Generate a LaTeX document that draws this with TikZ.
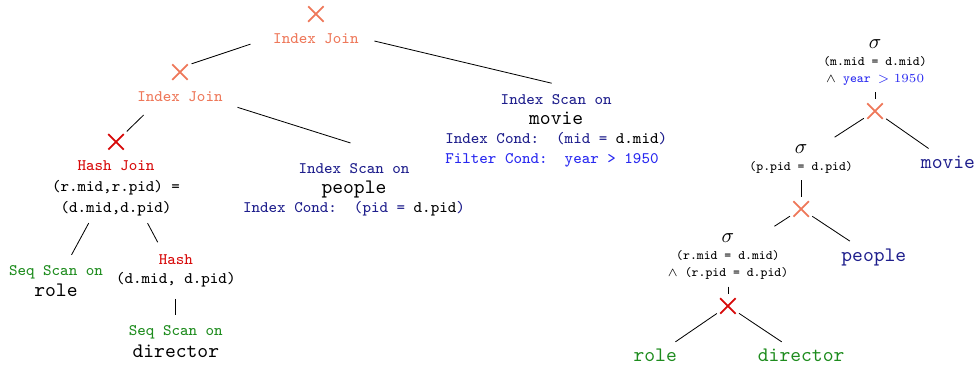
\documentclass[tikz,border=0pt]{standalone}
\usepackage{amssymb}
\usepackage{tikz}
\usetikzlibrary{shapes.misc}
\definecolor{joincol}{RGB}{238,120,90}
\definecolor{hashcol}{RGB}{215,10,10}
\definecolor{scancol}{RGB}{30,140,30}
\definecolor{idxcol}{RGB}{30,30,140}
\definecolor{filtcol}{RGB}{40,40,240}

\begin{document}
\begin{tikzpicture}[
  joinx/.style={cross out,draw=#1,line width=0.85pt,minimum size=7.5pt,inner sep=0pt,outer sep=0pt},
  op/.style={font=\ttfamily\fontsize{7.8}{9.5}\selectfont\frenchspacing,align=center},
  rel/.style={font=\ttfamily},
  cond/.style={font=\ttfamily\fontsize{6.3}{8.25}\selectfont,align=center}]
  \useasboundingbox (0,0) rectangle (16.67,-6.296);

  \node[joinx=joincol] (x1) at (5.39,-0.24) {};
  \node[op,text=joincol] (ij1) at (5.39,-0.665) {Index Join};
  \node[joinx=joincol] (x2) at (3.07,-1.23) {};
  \node[op,text=joincol] (ij2) at (3.07,-1.655) {Index Join};
  \node[joinx=hashcol] (x3) at (1.98,-2.42) {};
  \node[op] (hj) at (1.98,-3.21) {\textcolor{hashcol}{Hash Join}\\[0.7pt](r.mid,r.pid) =\\[0.7pt](d.mid,d.pid)};
  \node[op] (rl) at (0.955,-4.795) {\textcolor{scancol}{Seq Scan on}\\[1pt]{\normalsize role}};
  \node[op] (hs) at (3.00,-4.625) {\textcolor{hashcol}{Hash}\\(d.mid, d.pid)};
  \node[op] (dr) at (3.00,-5.83) {\textcolor{scancol}{Seq Scan on}\\[1pt]{\normalsize director}};
  \node[op,text=idxcol] (pp) at (6.04,-3.24) {Index Scan on\\{\normalsize\color{black}people}\\Index Cond:~ (pid = \textcolor{black}{d.pid})};
  \node[op,text=idxcol] (mv) at (9.49,-2.23) {Index Scan on\\{\normalsize\color{black}movie}\\Index Cond:~ (mid = \textcolor{black}{d.mid})\\\textcolor{filtcol}{Filter Cond:~ year > 1950}\hphantom{x}};

  \draw[shorten <=7.9pt,shorten >=2pt] (ij1.west) -- (x2.42);
  \draw[shorten <=4.3pt,shorten >=8.5pt] (ij1.east) -- (mv.74);
  \draw[shorten <=4pt,shorten >=2pt] (ij2.202) -- (x3);
  \draw[shorten <=3.9pt,shorten >=21.5pt] (ij2.-9) -- (pp.41);
  \draw[shorten >=1.7pt] (hj.-128) -- (rl.59);
  \draw[shorten >=2.8pt] (hj.-48) -- (hs.123);
  \draw[shorten <=2pt,shorten >=1.5pt] (hs) -- (dr);

  \node[cond] (s1) at (14.93,-1.06) {{\normalsize$\sigma$}\\(m.mid = d.mid)\\$\wedge$ \textcolor{filtcol}{year $>1950$}};
  \node[joinx=joincol] (x4) at (14.93,-1.895) {};
  \node[rel,text=idxcol] (mv2) at (16.175,-2.765) {movie};
  \node[cond] (s2) at (13.67,-2.71) {{\normalsize$\sigma$}\\(p.pid = d.pid)};
  \node[joinx=joincol] (x5) at (13.67,-3.565) {};
  \node[rel,text=idxcol] (pp2) at (14.91,-4.385) {people};
  \node[cond] (s3) at (12.42,-4.375) {{\normalsize$\sigma$}\\(r.mid = d.mid)\\$\wedge$ (r.pid = d.pid)};
  \node[joinx=hashcol] (x6) at (12.42,-5.22) {};
  \node[rel,text=scancol] (rr) at (11.18,-6.065) {role};
  \node[rel,text=scancol] (dr2) at (13.67,-6.065) {director};

  \draw[shorten >=2pt] (s1) -- (x4);
  \draw[shorten <=2pt] (x4) -- (s2);
  \draw[shorten <=2pt] (x4) -- (mv2);
  \draw[shorten >=2pt] (s2) -- (x5);
  \draw[shorten <=2pt] (x5) -- (s3);
  \draw[shorten <=2pt] (x5) -- (pp2);
  \draw[shorten >=2pt] (s3) -- (x6);
  \draw[shorten <=2pt] (x6) -- (rr.34);
  \draw[shorten <=2pt] (x6) -- (dr2.145);
\end{tikzpicture}
\end{document}
